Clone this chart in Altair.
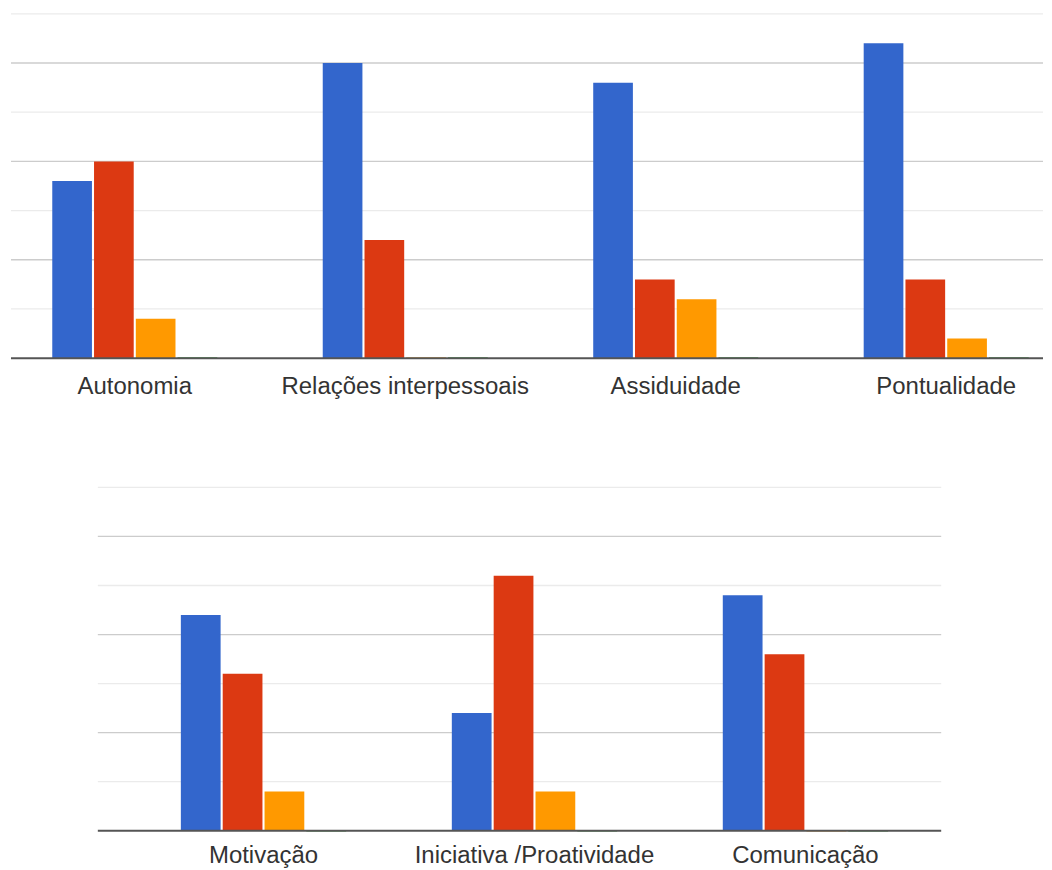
import altair as alt
import pandas as pd

# ---- data -----------------------------------------------------------
series = ["Opção 1", "Opção 2", "Opção 3", "Opção 4"]
colors = ["#3366cc", "#dc3912", "#ff9900", "#109618"]

top_categories = ["Autonomia", "Relações interpessoais", "Assiduidade", "Pontualidade"]
top_s1 = [18, 30, 28, 32]
top_s2 = [20, 12, 8, 8]
top_s3 = [4, 0, 6, 2]
top_s4 = [0, 0, 0, 0]

bottom_categories = ["Motivação", "Iniciativa /Proatividade", "Comunicação"]
bottom_s1 = [22, 12, 24]
bottom_s2 = [16, 26, 18]
bottom_s3 = [4, 4, 0]
bottom_s4 = [0, 0, 0]

major_grid = [10, 20, 30]
minor_grid = [5, 15, 25, 35]
y_max = 35

FONT = "Liberation Sans"


def long_df(cats, cols):
    rows = []
    for ci, c in enumerate(cats):
        for si, s in enumerate(series):
            rows.append({"categoria": c, "serie": s, "valor": cols[si][ci]})
    return pd.DataFrame(rows)


def panel(cats, cols, width, height, pad_outer, align, label_pad, x0=None, x1=None):
    df = long_df(cats, cols)
    yscale = alt.Scale(domain=[0, y_max], nice=False, zero=True)

    def rule_enc(field):
        enc = dict(y=alt.Y(field, type="quantitative", scale=yscale, axis=None))
        if x0 is not None:
            enc["x"] = alt.value(x0)
            enc["x2"] = alt.value(x1)
        return enc

    minor = alt.Chart(pd.DataFrame({"g": minor_grid})).mark_rule(
        color="#ebebeb", strokeWidth=1.3
    ).encode(**rule_enc("g"))
    major = alt.Chart(pd.DataFrame({"g": major_grid})).mark_rule(
        color="#cccccc", strokeWidth=1.3
    ).encode(**rule_enc("g"))

    color_scale = alt.Scale(domain=series, range=colors)
    bars = alt.Chart(df).mark_bar(strokeWidth=1).encode(
        x=alt.X(
            "categoria:N",
            sort=cats,
            scale=alt.Scale(paddingInner=0.39, paddingOuter=pad_outer, align=align),
            axis=alt.Axis(
                title=None, labelAngle=0, domain=False, ticks=False, tickSize=0,
                grid=False, labelFontSize=24, labelFont=FONT, labelColor="#333333",
                labelPadding=label_pad, labelLimit=0,
            ),
        ),
        xOffset=alt.XOffset("serie:N", sort=series,
                            scale=alt.Scale(paddingInner=0.05, paddingOuter=0)),
        y=alt.Y("valor:Q", scale=yscale, axis=None),
        color=alt.Color("serie:N", scale=color_scale, legend=None),
        stroke=alt.condition(
            "datum.valor == 0",
            alt.Stroke("serie:N", scale=color_scale, legend=None),
            alt.value("transparent"),
        ),
    )

    base = alt.Chart(pd.DataFrame({"b": [0]})).mark_rule(
        color="#555555", strokeWidth=2
    ).encode(**rule_enc("b"))

    return alt.layer(minor, major, bars, base).properties(width=width, height=height)


top = panel(top_categories, [top_s1, top_s2, top_s3, top_s4],
            1034, 345, 0.10277, 0.7424, 16.5)
bottom = panel(bottom_categories, [bottom_s1, bottom_s2, bottom_s3, bottom_s4],
               1034, 344, 0.5993, 0.523, 13, 87, 932)

chart = alt.vconcat(top, bottom, spacing=87.5).resolve_scale(
    x="independent", xOffset="independent"
).properties(
    padding={"left": 2, "top": 4, "right": 0, "bottom": 0},
).configure_view(stroke=None)

chart.save("out.html", embed_options={"renderer": "svg", "actions": False})
